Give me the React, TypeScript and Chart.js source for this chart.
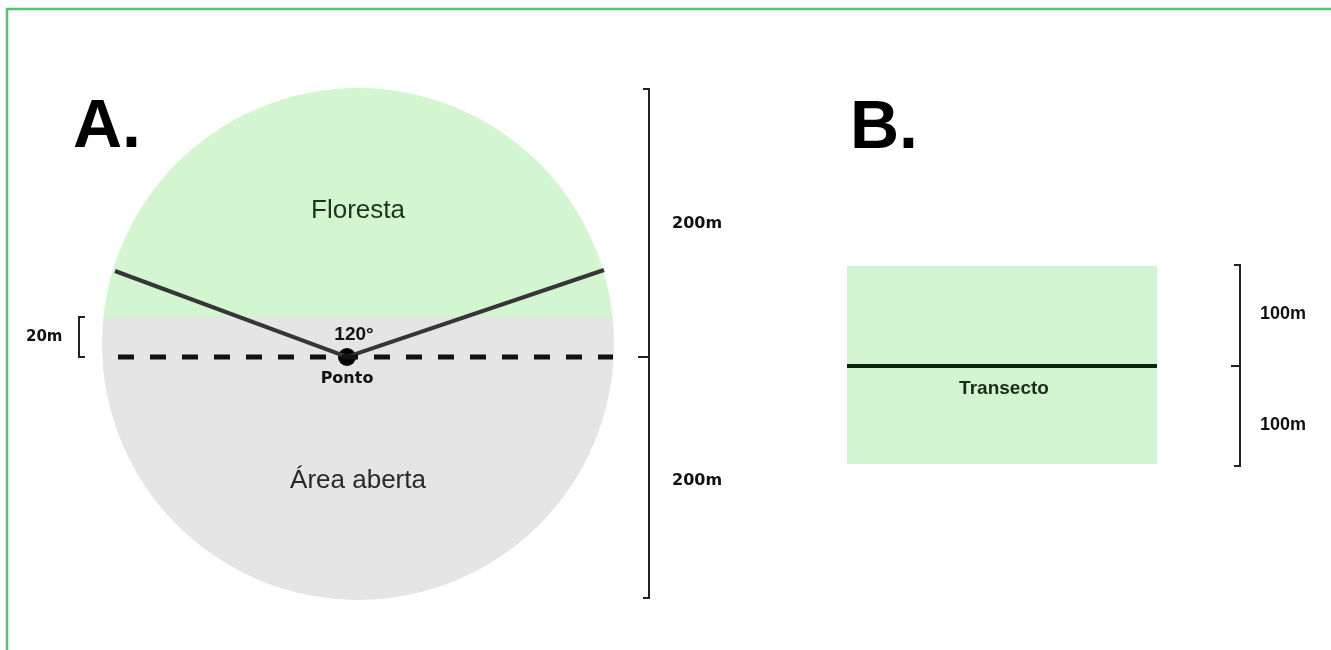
import React, { useEffect, useRef } from "react";
import { Chart, registerables } from "chart.js";

Chart.register(...registerables);

const W = 1331;
const H = 650;

// ---------- Panel A (diagram units) ----------
const circleCenter = [358, 344];
const circleRadius = [256];
const forestEdgeY = [317];
const viewLineX = [115, 347, 604];
const viewLineY = [271, 357, 270];
const pointX = [347];
const pointY = [357];
const dashX = [118, 613];
const dashY = [357, 357];
const barAX = [643, 649, 649, 643];
const barAY = [89, 89, 598, 598];
const barAMidX = [638, 649];
const barAMidY = [357, 357];
const bracketX = [85, 79, 79, 85];
const bracketY = [317, 317, 357, 357];

// ---------- Panel B ----------
const rectX = [847, 1157];
const rectY = [266, 464];
const transectX = [847, 1157];
const transectY = [366, 366];
const barBX = [1234, 1240, 1240, 1234];
const barBY = [265, 265, 466, 466];
const barBMidX = [1231, 1240];
const barBMidY = [366, 366];

// ---------- Frame ----------
const frameX = [7, 1345];
const frameY = [9, 665];

// ---------- Texts ----------
const labelTexts = ["A.", "B.", "Floresta", "Área aberta", "120°", "Ponto", "20m", "200m", "200m", "Transecto", "100m", "100m"];
const labelX = [73, 850, 358, 358, 354, 347, 26, 672, 672, 1004, 1260, 1260];
const labelY = [147, 148, 218, 488, 340, 383, 341, 228, 485, 394, 319, 430];

const labelStyle = [
  { font: 'bold 68px "Liberation Sans", Arial, sans-serif', color: "#000", align: "left" },
  { font: 'bold 68px "Liberation Sans", Arial, sans-serif', color: "#000", align: "left" },
  { font: '26px "Liberation Sans", Arial, sans-serif', color: "#1e331e", align: "center" },
  { font: '26px "Liberation Sans", Arial, sans-serif', color: "#2a2a2a", align: "center" },
  { font: 'bold 19px "Liberation Sans", Arial, sans-serif', color: "#111", align: "center" },
  { font: 'bold 16px "DejaVu Sans", sans-serif', color: "#111", align: "center" },
  { font: 'bold 15px "DejaVu Sans", sans-serif', color: "#111", align: "left" },
  { font: 'bold 16px "DejaVu Sans", sans-serif', color: "#111", align: "left" },
  { font: 'bold 16px "DejaVu Sans", sans-serif', color: "#111", align: "left" },
  { font: 'bold 19px "Liberation Sans", Arial, sans-serif', color: "#1b2a1b", align: "center" },
  { font: 'bold 18px "Liberation Sans", Arial, sans-serif', color: "#111", align: "left" },
  { font: 'bold 18px "Liberation Sans", Arial, sans-serif', color: "#111", align: "left" },
];

const pts = (xs: number[], ys: number[]) => xs.map((x, i) => ({ x, y: ys[i] }));

const lineDs = (data: any[], color: string, width: number, extra: any = {}) => ({
  data,
  showLine: true,
  fill: false,
  borderColor: color,
  borderWidth: width,
  pointRadius: 0,
  pointHoverRadius: 0,
  tension: 0,
  borderCapStyle: "butt",
  borderJoinStyle: "miter",
  ...extra,
});

const shapesPlugin = {
  id: "shapes",
  beforeDatasetsDraw(chart: any) {
    const { ctx, scales } = chart;
    const xs = scales.x;
    const ys = scales.y;
    const cx = xs.getPixelForValue(circleCenter[0]);
    const cy = ys.getPixelForValue(circleCenter[1]);
    const r = xs.getPixelForValue(circleCenter[0] + circleRadius[0]) - cx;
    const edge = ys.getPixelForValue(forestEdgeY[0]);
    ctx.save();
    ctx.save();
    ctx.beginPath();
    ctx.rect(0, 0, W, edge);
    ctx.clip();
    ctx.beginPath();
    ctx.arc(cx, cy, r, 0, Math.PI * 2);
    ctx.fillStyle = "#d3f5d0";
    ctx.fill();
    ctx.restore();
    ctx.save();
    ctx.beginPath();
    ctx.rect(0, edge, W, H - edge);
    ctx.clip();
    ctx.beginPath();
    ctx.arc(cx, cy, r, 0, Math.PI * 2);
    ctx.fillStyle = "#e5e5e5";
    ctx.fill();
    ctx.restore();
    const x0 = xs.getPixelForValue(rectX[0]);
    const x1 = xs.getPixelForValue(rectX[1]);
    const y0 = ys.getPixelForValue(rectY[0]);
    const y1 = ys.getPixelForValue(rectY[1]);
    ctx.fillStyle = "#d3f4d0";
    ctx.fillRect(x0, y0, x1 - x0, y1 - y0);
    ctx.restore();
  },
  afterDatasetsDraw(chart: any) {
    const { ctx, scales } = chart;
    const xs = scales.x;
    const ys = scales.y;
    ctx.save();
    ctx.textBaseline = "alphabetic";
    labelTexts.forEach((t, i) => {
      const s = labelStyle[i];
      ctx.font = s.font;
      ctx.fillStyle = s.color;
      ctx.textAlign = s.align;
      ctx.fillText(t, xs.getPixelForValue(labelX[i]), ys.getPixelForValue(labelY[i]));
    });
    const fx0 = xs.getPixelForValue(frameX[0]);
    const fx1 = xs.getPixelForValue(frameX[1]);
    const fy0 = ys.getPixelForValue(frameY[0]);
    const fy1 = ys.getPixelForValue(frameY[1]);
    ctx.strokeStyle = "#58c078";
    ctx.lineWidth = 2.5;
    ctx.strokeRect(fx0, fy0, fx1 - fx0, fy1 - fy0);
    ctx.restore();
  },
};

export default function App() {
  const ref = useRef<HTMLCanvasElement | null>(null);
  useEffect(() => {
    if (!ref.current) return;
    const chart = new Chart(ref.current, {
      type: "scatter",
      data: {
        datasets: [
          lineDs(pts(dashX, dashY), "#111", 5, { borderDash: [16, 16] }),
          lineDs(pts(viewLineX, viewLineY), "#363636", 4),
          lineDs(pts(bracketX, bracketY), "#222", 2),
          lineDs(pts(barAX, barAY), "#222", 2),
          lineDs(pts(barAMidX, barAMidY), "#222", 2),
          lineDs(pts(transectX, transectY), "#0b240d", 4),
          lineDs(pts(barBX, barBY), "#222", 2),
          lineDs(pts(barBMidX, barBMidY), "#222", 2),
          {
            data: pts(pointX, pointY),
            showLine: false,
            pointRadius: 9,
            pointHoverRadius: 9,
            backgroundColor: "#000",
            borderWidth: 0,
          },
        ] as any,
      },
      options: {
        responsive: false,
        maintainAspectRatio: false,
        animation: false,
        events: [],
        layout: { padding: 0, autoPadding: false },
        plugins: { legend: { display: false }, tooltip: { enabled: false } },
        scales: {
          x: { type: "linear", min: 0, max: W, display: false },
          y: { type: "linear", min: 0, max: H, reverse: true, display: false },
        },
      } as any,
      plugins: [shapesPlugin],
    });
    return () => chart.destroy();
  }, []);
  return (
    <div style={{ position: "absolute", left: 0, top: 0, width: W, height: H, background: "#fff" }}>
      <canvas ref={ref} width={W} height={H} style={{ display: "block", width: W, height: H }} />
    </div>
  );
}
